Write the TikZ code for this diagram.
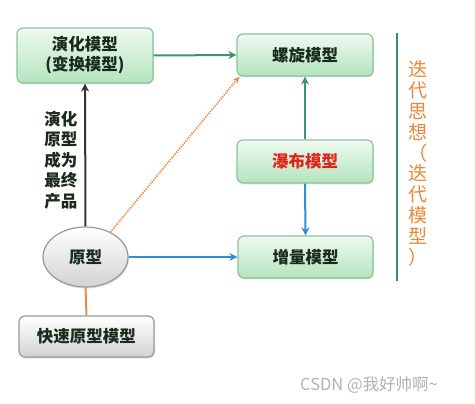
\documentclass[tikz,border=0pt]{standalone}
\usepackage{fontspec}
\newfontfamily\cjk{Noto Sans CJK SC}
\newfontfamily\cjkb{Noto Sans CJK SC Black}
\usetikzlibrary{arrows.meta,shadows,shapes.geometric}
\definecolor{gborder}{HTML}{8CC49A}
\definecolor{gtop}{HTML}{EEFAF0}
\definecolor{gbot}{HTML}{B3E4BE}
\definecolor{boxtext}{HTML}{1A2A1D}
\definecolor{arrgreen}{HTML}{3E9470}
\definecolor{arrblue}{HTML}{2E8FD2}
\definecolor{arrorange}{HTML}{EE8A45}
\definecolor{vline}{HTML}{3E8E5E}
\definecolor{vtext}{HTML}{E8893A}
\definecolor{wred}{HTML}{E2231A}
\begin{document}
\begin{tikzpicture}[x=1pt,y=-1pt,
  boxfont/.style={font=\cjkb\fontsize{16.5}{20}\selectfont},
  gbox/.style={draw=gborder,line width=1.2pt,rounded corners=6pt,top color=gtop,bottom color=gbot,
    drop shadow={opacity=0.25,shadow xshift=1pt,shadow yshift=-1.5pt},
    boxfont,text=boxtext,align=center,inner sep=0pt},
  graybox/.style={draw=gray!80,line width=1.2pt,rounded corners=6pt,top color=white,bottom color=gray!35,
    drop shadow={opacity=0.25,shadow xshift=1pt,shadow yshift=-1.5pt},
    boxfont,text=boxtext,inner sep=0pt},
  arr/.style={line width=2pt,-{Stealth[length=8pt,width=8pt]}},
]
\useasboundingbox (0,0) rectangle (475,404);
\fill[white] (0,0) rectangle (475,404);

\node[gbox,minimum width=136pt,minimum height=55pt] (evo) at (85,55.5) {演化模型\\(变换模型)};
\node[gbox,minimum width=136pt,minimum height=42pt] (spiral) at (305,55) {螺旋模型};
\node[gbox,minimum width=136pt,minimum height=43pt,text=wred] (water) at (305,161.5) {瀑布模型};
\node[gbox,minimum width=135pt,minimum height=42pt] (incr) at (305.5,257) {增量模型};
\node[ellipse,draw=gray!80,line width=1.2pt,top color=white,bottom color=gray!35,
  drop shadow={opacity=0.25,shadow xshift=1pt,shadow yshift=-1.5pt},
  minimum width=85pt,minimum height=60pt,inner sep=0pt,
  boxfont,text=boxtext] (proto) at (85.5,257) {原型};
\node[graybox,minimum width=135pt,minimum height=41pt] (rapid) at (86.5,336.5) {快速原型模型};

\draw[arr,color=black!80] (proto.north) -- (evo.south);
\node[font=\cjkb\fontsize{16.5}{20.5}\selectfont,text=boxtext,align=center] (lbl) at (61,160) {演化\\原型\\成为\\最终\\产品};

\draw[arr,color=arrgreen] (evo.east) -- (spiral.west);
\draw[arr,color=arrgreen] (water.north) -- (spiral.south);
\draw[arr,color=arrblue] (water.south) -- (incr.north);
\draw[arr,color=arrblue] (proto.east) -- (incr.west);
\draw[line width=2pt,color=arrorange] (proto.south) -- (rapid.north);
\coordinate (dstart) at (proto.45);
\coordinate (dend) at ([xshift=3pt]spiral.south west);
\draw[arrorange,line width=1.8pt,dash pattern=on 1.2pt off 1.2pt,-{Stealth[length=7pt,width=6pt]}] (dstart) -- (dend);

\coordinate (vtop) at (397,33);
\coordinate (vbot) at (397,281);
\draw[vline,line width=2.6pt] (vtop) -- (vbot);
\node[font=\cjk\fontsize{19}{20.8}\selectfont,text=vtext,align=center,inner sep=0pt] (vt) at (418,163.5)
  {迭\\代\\思\\想\\（\\迭\\代\\模\\型\\）};

\node[font=\cjk\fontsize{16.5}{18}\selectfont,text=gray!60,anchor=west,inner sep=0pt] (wm) at (300,385) {CSDN @我好帅啊\textasciitilde};
\end{tikzpicture}
\end{document}
